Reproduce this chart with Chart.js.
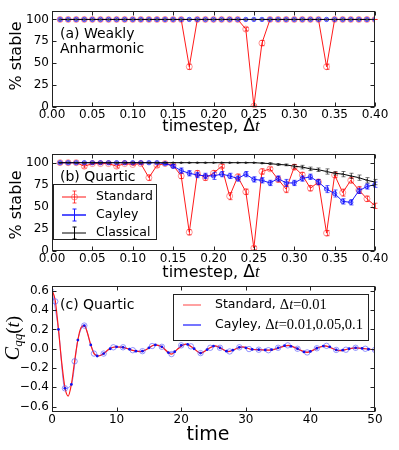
<!DOCTYPE html>
<html>
<head>
<meta charset="utf-8">
<script src="https://cdn.jsdelivr.net/npm/chart.js@4.4.0/dist/chart.umd.min.js"></script>
<style>
html, body { margin: 0; padding: 0; background: #fff; }
#wrap { position: relative; width: 399px; height: 450px; }
canvas { position: absolute; left: 0; top: 0; }
</style>
</head>
<body>
<div id="wrap">
  <canvas id="chartA" width="399" height="450"></canvas>
  <canvas id="chartB" width="399" height="450"></canvas>
  <canvas id="chartC" width="399" height="450"></canvas>
</div>
<script>
// ---- data ----
const timesteps = [0.01,0.02,0.03,0.04,0.05,0.06,0.07,0.08,0.09,0.10,
  0.11,0.12,0.13,0.14,0.15,0.16,0.17,0.18,0.19,0.20,
  0.21,0.22,0.23,0.24,0.25,0.26,0.27,0.28,0.29,0.30,
  0.31,0.32,0.33,0.34,0.35,0.36,0.37,0.38,0.39,0.40];

// (a) weakly anharmonic, % stable
const standardWeak = [100,100,100,100,100,100,100,100,100,100,
  100,100,100,100,100,100,46,100,100,100,
  100,100,100,89,1,73,100,100,100,100,
  100,100,100,46,100,100,100,100,100,100];
const standardWeakErr = [0,0,0,0,0,0,0,0,0,0,
  0,0,0,0,0,0,3,0,0,0,
  0,0,0,2,1,3,0,0,0,0,
  0,0,0,3,0,0,0,0,0,0];
const cayleyWeak = [100,100,100,100,100,100,100,100,100,100,
  100,100,100,100,100,100,100,100,100,100,
  100,100,100,100,100,100,100,100,100,100,
  100,100,100,100,100,100,100,100,100,100];
const classicalWeak = [100,100,100,100,100,100,100,100,100,100,
  100,100,100,100,100,100,100,100,100,100,
  100,100,100,100,100,100,100,100,100,100,
  100,100,100,100,100,100,100,100,100,100];

// (b) quartic, % stable
const standardQuartic = [100,100,100,96,99,99,99,96,99,98,
  99,83,97,99,97,85,21,88,83,88,
  96,62,84,67,3,90,93,81,70,95,
  86,71,78,20,86,66,80,69,59,51];
const standardQuarticErr = [0,0,0,2,1,1,1,2,1,1,
  1,3,2,0,1,3,3,3,3,3,
  2,4,3,3,2,3,2,3,4,3,
  3,3,3,3,3,4,3,4,3,3];
const cayleyQuartic = [100,100,100,100,100,100,100,100,100,100,
  100,100,100,99,96,91,88,86,85,85,
  87,85,82,87,81,80,77,82,77,77,
  82,84,78,70,65,56,55,68,73,75];
const cayleyQuarticErr = [0,0,0,0,0,0,0,0,0,0,
  0,0,0,1,2,3,3,3,3,4,
  3,3,3,3,3,3,3,3,4,3,
  3,3,3,4,4,3,3,3,3,3];
const classicalQuartic = [100,100,100,100,100,100,100,100,100,100,
  100,100,100,100,100,100,100,100,100,100,
  100,100,100,100,100,99.5,99,98,97.5,96,
  95,93,92,90,88,87,85,83,80,78];
const classicalQuarticErr = [0,0,0,0,0,0,0,0,0,0,
  0,0,0,0,0,0,0,0,0,0,
  0,0,0,0,0,0.5,1,1,1,2,
  2,2,2,3,2,3,3,3,3,3];

// (c) correlation function C_qq(t)
const standardTime = [0,0.5,1,1.5,2,2.5,3,3.5,4,4.5,5,5.5,6,6.5,7.2,8,8.8,9.7,10.7,11.7,
  12.7,13.7,14.7,15.9,17,18.5,19.5,20.7,21.8,23,24.2,25.3,26.3,27.3,28.5,29.5,30.7,32,33.5,34.5,
  36.6,38,39.5,41,42.3,43.5,44.5,45.7,47,48.5,50];
const standardCorr = [0.61,0.50,0.20,-0.14,-0.40,-0.49,-0.37,-0.13,0.09,0.22,0.24,0.16,0.04,-0.05,-0.075,-0.05,-0.005,0.018,0.017,0.0,
  -0.02,-0.03,-0.005,0.04,0.02,-0.055,0.0,0.048,0.01,-0.045,0.0,0.03,0.0,-0.03,0.0,0.02,-0.005,-0.01,-0.015,-0.005,
  0.035,0.0,-0.038,0.005,0.03,0.0,-0.02,-0.005,0.01,0.0,-0.012];

const cayleyDotTime = [0,1,2,3,4,5,6,7,8,9,10,11,12,13,14,15,16,17,18,19,20,21,22,23,24,25,
  26,27,28,29,30,31,32,33,34,35,36,37,38,39,40,41,42,43,44,45,46,47,48,49,50];
const cayleyDotCorr = [0.61,0.20,-0.41,-0.37,0.09,0.24,0.04,-0.075,-0.05,0.0,0.02,0.015,-0.005,-0.025,-0.025,0.01,0.04,0.02,-0.04,-0.03,0.035,0.045,0.0,-0.045,-0.01,0.028,
  0.01,-0.025,-0.015,0.015,0.01,-0.007,-0.01,-0.013,-0.01,0.01,0.032,0.025,0.0,-0.033,-0.028,0.005,0.028,0.02,-0.012,-0.015,0.0,0.01,0.003,-0.005,-0.012];

const cayleyCircleTime = [0.5,2,3.5,5,6.5,8,9.5,11,12.5,14,15.5,17,18.5,20,21.5,23,24.5,26,27.5,29,
  30.5,32,33.5,35,36.5,38,39.5,41,42.5,44,45.5,47,48.5,50];
const cayleyCircleCorr = [0.49,-0.41,-0.13,0.24,-0.05,-0.05,0.015,0.015,-0.015,-0.025,0.028,0.02,-0.055,0.035,0.025,-0.045,0.01,0.01,-0.028,0.015,
  -0.003,-0.01,-0.015,0.01,0.035,0.0,-0.038,0.005,0.03,-0.012,-0.01,0.01,0.0,-0.012];

// tick values
const stableTicks = [0, 25, 50, 75, 100];
const timestepTicks = [0, 0.05, 0.10, 0.15, 0.20, 0.25, 0.30, 0.35, 0.40];
const corrTicks = [-0.6, -0.4, -0.2, 0, 0.2, 0.4, 0.6];
const timeTicks = [0, 10, 20, 30, 40, 50];

// ---- helpers ----
const SANS = "'DejaVu Sans'";
const SERIF = "'Liberation Serif'";
const RED = '#ff1a1a';
const BLUE = '#1a1aff';

function toPoints(xs, ys) {
  return xs.map((x, i) => ({ x: x, y: ys[i] }));
}

function drawRuns(ctx, runs, x, y, align) {
  ctx.textBaseline = 'middle';
  ctx.textAlign = 'left';
  let total = 0;
  runs.forEach(r => {
    ctx.font = r.font;
    r.w = ctx.measureText(r.text).width;
    total += r.w;
  });
  let cx = align === 'center' ? x - total / 2 : x;
  runs.forEach(r => {
    ctx.font = r.font;
    ctx.fillText(r.text, cx, y + (r.dy || 0));
    cx += r.w;
  });
}

// error bars, drawn right after their own dataset so z-order is kept
const errorBarPlugin = {
  id: 'errorBars',
  afterDatasetDraw(chart, args) {
    const ds = chart.data.datasets[args.index];
    if (!ds.errors) return;
    const ctx = chart.ctx;
    const yScale = chart.scales.y;
    ctx.save();
    ctx.strokeStyle = ds.errorColor;
    ctx.lineWidth = 1;
    args.meta.data.forEach((pt, j) => {
      const v = ds.data[j].y;
      const e = ds.errors[j];
      const top = yScale.getPixelForValue(v + e);
      const bot = yScale.getPixelForValue(v - e);
      const px = Math.round(pt.x) + 0.5;
      ctx.beginPath();
      ctx.moveTo(px, top); ctx.lineTo(px, bot);
      ctx.moveTo(px - 2, top); ctx.lineTo(px + 2, top);
      ctx.moveTo(px - 2, bot); ctx.lineTo(px + 2, bot);
      ctx.stroke();
    });
    ctx.restore();
  }
};

// box round the plot with inward ticks on all four sides
const framePlugin = {
  id: 'frame',
  afterDraw(chart) {
    const { ctx, chartArea: a, scales } = chart;
    const L = Math.round(a.left) + 0.5, R = Math.round(a.right) - 0.5;
    const T = Math.round(a.top) + 0.5, B = Math.round(a.bottom) - 0.5;
    ctx.save();
    ctx.strokeStyle = '#222';
    ctx.lineWidth = 1;
    ctx.beginPath();
    scales.x.ticks.forEach(t => {
      const px = Math.round(scales.x.getPixelForValue(t.value)) + 0.5;
      ctx.moveTo(px, B); ctx.lineTo(px, B - 4);
      ctx.moveTo(px, T); ctx.lineTo(px, T + 4);
    });
    scales.y.ticks.forEach(t => {
      const py = Math.round(scales.y.getPixelForValue(t.value)) + 0.5;
      ctx.moveTo(L, py); ctx.lineTo(L + 4, py);
      ctx.moveTo(R, py); ctx.lineTo(R - 4, py);
    });
    ctx.stroke();
    ctx.strokeRect(L, T, R - L, B - T);
    ctx.restore();
  }
};

Chart.register(errorBarPlugin, framePlugin);

function baseOptions(plotTop, plotBottom, xr, yr, xTicks, yTicks, xFmt, yFmt) {
  return {
    responsive: false,
    animation: false,
    events: [],
    layout: { padding: { top: plotTop, left: 0, right: 24, bottom: 450 - plotBottom - 20 } },
    plugins: { legend: { display: false }, tooltip: { enabled: false } },
    scales: {
      x: {
        type: 'linear', min: xr[0], max: xr[1],
        grid: { display: false, drawTicks: false }, border: { display: false },
        afterBuildTicks: s => { s.ticks = xTicks.map(v => ({ value: v })); },
        afterFit: s => { s.height = 20; },
        ticks: { color: '#000', padding: 1, font: { family: SANS, size: 12 }, maxRotation: 0, callback: xFmt }
      },
      y: {
        min: yr[0], max: yr[1],
        grid: { display: false, drawTicks: false }, border: { display: false },
        afterBuildTicks: s => { s.ticks = yTicks.map(v => ({ value: v })); },
        afterFit: s => { s.width = 52; },
        ticks: { color: '#000', padding: 3, font: { family: SANS, size: 12 }, callback: yFmt }
      }
    }
  };
}

const fmtTimestep = v => v.toFixed(2);
const fmtInt = v => String(v);
const fmtCorr = v => v.toFixed(1).replace('-', '\u2212');

function stableDatasets(std, stdErr, cay, cayErr, cls, clsErr) {
  return [
    { label: 'Classical', data: toPoints(timesteps, cls), errors: clsErr, errorColor: 'rgba(0,0,0,0.55)',
      borderColor: '#000', borderWidth: 1, pointRadius: 1.2, pointBackgroundColor: '#444', pointBorderWidth: 0 },
    { label: 'Cayley', data: toPoints(timesteps, cay), errors: cayErr, errorColor: 'rgba(0,0,255,0.65)',
      borderColor: BLUE, borderWidth: 1, pointRadius: 2.2, pointBackgroundColor: 'rgba(60,60,255,0.45)',
      pointBorderColor: 'rgba(0,0,255,0.6)', pointBorderWidth: 1 },
    { label: 'Standard', data: toPoints(timesteps, std), errors: stdErr, errorColor: 'rgba(255,0,0,0.65)',
      borderColor: RED, borderWidth: 1, pointRadius: 3, pointBackgroundColor: 'rgba(255,0,0,0)',
      pointBorderColor: 'rgba(255,60,60,0.55)', pointBorderWidth: 1 }
  ];
}

function stableYTitle(ctx, cy) {
  ctx.save();
  ctx.fillStyle = '#000';
  ctx.translate(17, cy);
  ctx.rotate(-Math.PI / 2);
  drawRuns(ctx, [{ text: '% stable', font: '16px ' + SANS }], 0, 0, 'center');
  ctx.restore();
}

function timestepXTitle(ctx, cy) {
  ctx.fillStyle = '#000';
  drawRuns(ctx, [
    { text: 'timestep, ', font: '16px ' + SANS },
    { text: '\u0394', font: '17px ' + SANS },
    { text: 't', font: 'italic 17px ' + SERIF }
  ], 211, cy, 'center');
}

// ---- (a) weakly anharmonic ----
new Chart(document.getElementById('chartA'), {
  type: 'line',
  data: { datasets: stableDatasets(standardWeak, standardWeakErr, cayleyWeak, null, classicalWeak, null) },
  options: baseOptions(10.7, 107, [0, 0.4], [0, 110], timestepTicks, stableTicks, fmtTimestep, fmtInt),
  plugins: [{
    id: 'decorA',
    afterDraw(chart) {
      const ctx = chart.ctx;
      ctx.save();
      ctx.fillStyle = '#000';
      drawRuns(ctx, [{ text: '(a) Weakly', font: '14px ' + SANS }], 60, 34, 'left');
      drawRuns(ctx, [{ text: 'Anharmonic', font: '14px ' + SANS }], 60, 49, 'left');
      timestepXTitle(ctx, 127);
      ctx.restore();
      stableYTitle(ctx, 56);
    }
  }]
});

// ---- (b) quartic ----
new Chart(document.getElementById('chartB'), {
  type: 'line',
  data: { datasets: stableDatasets(standardQuartic, standardQuarticErr, cayleyQuartic, cayleyQuarticErr, classicalQuartic, classicalQuarticErr) },
  options: baseOptions(153.9, 250.7, [0, 0.4], [0, 110], timestepTicks, stableTicks, fmtTimestep, fmtInt),
  plugins: [{
    id: 'decorB',
    afterDraw(chart) {
      const ctx = chart.ctx;
      ctx.save();
      ctx.fillStyle = '#000';
      drawRuns(ctx, [{ text: '(b) Quartic', font: '14px ' + SANS }], 60, 177.5, 'left');
      // legend box
      ctx.fillStyle = '#fff';
      ctx.fillRect(53.5, 184.5, 103, 55);
      ctx.strokeStyle = '#222';
      ctx.lineWidth = 1;
      ctx.strokeRect(53.5, 184.5, 103, 55);
      const entries = [
        { y: 197, line: 'rgba(255,40,40,0.55)', lw: 2, err: 'rgba(255,0,0,0.7)', label: 'Standard', circle: true },
        { y: 215, line: BLUE, lw: 1.5, err: BLUE, label: 'Cayley' },
        { y: 233, line: '#000', lw: 1, err: '#000', label: 'Classical' }
      ];
      entries.forEach(e => {
        ctx.strokeStyle = e.line;
        ctx.lineWidth = e.lw;
        ctx.beginPath(); ctx.moveTo(62, e.y); ctx.lineTo(86, e.y); ctx.stroke();
        ctx.strokeStyle = e.err;
        ctx.lineWidth = 1;
        ctx.beginPath();
        ctx.moveTo(74.5, e.y - 6); ctx.lineTo(74.5, e.y + 6);
        ctx.moveTo(72.5, e.y - 6); ctx.lineTo(76.5, e.y - 6);
        ctx.moveTo(72.5, e.y + 6); ctx.lineTo(76.5, e.y + 6);
        ctx.stroke();
        if (e.circle) {
          ctx.strokeStyle = 'rgba(255,60,60,0.6)';
          ctx.beginPath(); ctx.arc(74.5, e.y, 3, 0, Math.PI * 2); ctx.stroke();
        }
        ctx.fillStyle = '#000';
        drawRuns(ctx, [{ text: e.label, font: '12.5px ' + SANS }], 96, e.y, 'left');
      });
      timestepXTitle(ctx, 273);
      ctx.restore();
      stableYTitle(ctx, 205);
    }
  }]
});

// ---- (c) correlation function ----
new Chart(document.getElementById('chartC'), {
  type: 'line',
  data: {
    datasets: [
      { label: 'Cayley dt=0.05', data: toPoints(cayleyDotTime, cayleyDotCorr), showLine: false,
        pointRadius: 1.4, pointBackgroundColor: '#1010ee', pointBorderWidth: 0 },
      { label: 'Cayley dt=0.1', data: toPoints(cayleyCircleTime, cayleyCircleCorr), showLine: false,
        pointRadius: 2.7, pointBackgroundColor: 'rgba(0,0,0,0)', pointBorderColor: 'rgba(80,80,255,0.6)', pointBorderWidth: 1 },
      { label: 'Standard dt=0.01', data: toPoints(standardTime, standardCorr), borderColor: RED, borderWidth: 1.2,
        pointRadius: 0, cubicInterpolationMode: 'monotone' },
      { label: 'Cayley dt=0.01', data: toPoints(cayleyDotTime, cayleyDotCorr), borderColor: 'rgba(30,30,255,0.5)', borderWidth: 1,
        pointRadius: 0, cubicInterpolationMode: 'monotone' }
    ]
  },
  options: baseOptions(286, 411.5, [0, 50], [-0.65, 0.65], timeTicks, corrTicks, fmtInt, fmtCorr),
  plugins: [{
    id: 'decorC',
    afterDraw(chart) {
      const ctx = chart.ctx;
      ctx.save();
      ctx.fillStyle = '#000';
      drawRuns(ctx, [{ text: '(c) Quartic', font: '14px ' + SANS }], 60, 305, 'left');
      // legend box
      ctx.fillStyle = '#fff';
      ctx.fillRect(173.5, 294.5, 195, 46);
      ctx.strokeStyle = '#222';
      ctx.lineWidth = 1;
      ctx.strokeRect(173.5, 294.5, 195, 46);
      const entries = [
        { y: 305, color: 'rgba(255,60,60,0.8)', label: 'Standard, ', math: '=0.01' },
        { y: 325, color: BLUE, label: 'Cayley, ', math: '=0.01,0.05,0.1' }
      ];
      entries.forEach(e => {
        ctx.strokeStyle = e.color;
        ctx.lineWidth = 1.2;
        ctx.beginPath(); ctx.moveTo(183, e.y); ctx.lineTo(201, e.y); ctx.stroke();
        ctx.fillStyle = '#000';
        drawRuns(ctx, [
          { text: e.label, font: '12.5px ' + SANS },
          { text: '\u0394', font: '14.5px ' + SERIF },
          { text: 't', font: 'italic 14.5px ' + SERIF },
          { text: e.math, font: '14.5px ' + SERIF }
        ], 215, e.y, 'left');
      });
      drawRuns(ctx, [{ text: 'time', font: '19px ' + SANS }], 208, 435, 'center');
      // y title C_qq(t)
      ctx.translate(14, 338);
      ctx.rotate(-Math.PI / 2);
      drawRuns(ctx, [
        { text: 'C', font: 'italic 20px ' + SERIF },
        { text: 'qq', font: 'italic 13px ' + SERIF, dy: 5 },
        { text: '(', font: '19px ' + SERIF },
        { text: 't', font: 'italic 19px ' + SERIF },
        { text: ')', font: '19px ' + SERIF }
      ], 0, 0, 'center');
      ctx.restore();
    }
  }]
});
</script>
</body>
</html>
